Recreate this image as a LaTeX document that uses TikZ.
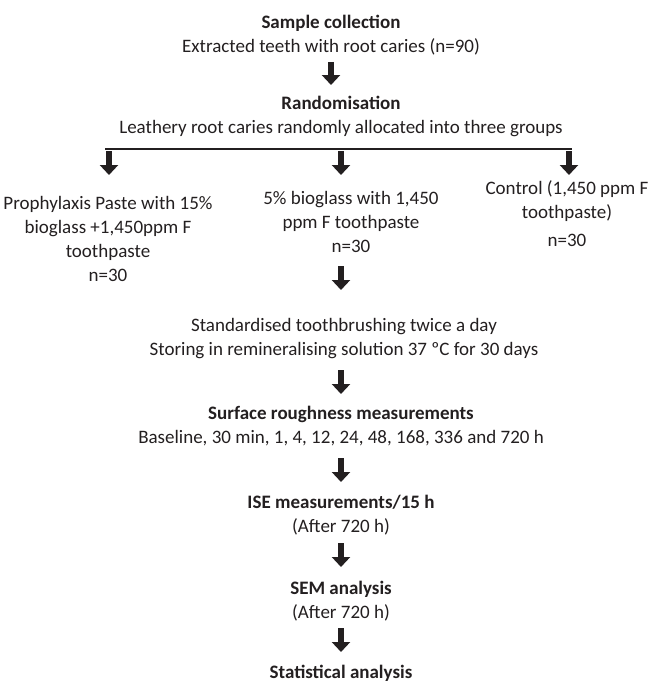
\documentclass[tikz,border=0pt]{standalone}
\usepackage{fontspec}
\setmainfont{Carlito}
\usepackage{tikz}
\usetikzlibrary{positioning,arrows.meta}
\definecolor{flowInk}{HTML}{231F20}
\tikzset{
  steptext/.style={align=center,inner sep=0pt,text=flowInk,
    font=\fontsize{19}{24}\selectfont},
  blockarrow/.style={-{Triangle[length=10pt,width=18pt]},line width=6pt,draw=flowInk},
  branchline/.style={line width=2.6pt,draw=flowInk}
}
\begin{document}
\begin{tikzpicture}[x=1pt,y=-1pt]
  \useasboundingbox (0,0) rectangle (649,685);
  % stages of the study
  \node[steptext] (collect) at (331,35.5) {\textbf{Sample collection}\\Extracted teeth with root caries (n=90)};
  \node[steptext] (random) at (341,116.5) {\textbf{Randomisation}\\Leathery root caries randomly allocated into three groups};
  \node[steptext] (paste) at (108,238.5) {Prophylaxis Paste with 15\%\\bioglass +1,450ppm F\\toothpaste\\n=30};
  \node[steptext] (bioglass) at (351,221.5) {5\% bioglass with 1,450\\ppm F toothpaste\\n=30};
  \node[steptext] (control) at (567,214) {Control (1,450 ppm F\\toothpaste)\\[4pt]n=30};
  \node[steptext] (brush) at (344,338.5) {Standardised toothbrushing twice a day\\Storing in remineralising solution 37 ºC for 30 days};
  \node[steptext] (rough) at (341,426.5) {\textbf{Surface roughness measurements}\\Baseline, 30 min, 1, 4, 12, 24, 48, 168, 336 and 720 h};
  \node[steptext] (ise) at (341,515) {\textbf{ISE measurements/15 h}\\(After 720 h)};
  \node[steptext] (sem) at (341,601) {\textbf{SEM analysis}\\(After 720 h)};
  \node[steptext] (stats) at (341,673) {\textbf{Statistical analysis}};
  % branch to the three groups
  \coordinate (splitL) at (105,149);
  \coordinate (splitR) at (572,149);
  \draw[branchline] (splitL) -- (splitR);
  \coordinate (g1s) at (109,151); \coordinate (g1e) at (109,175);
  \coordinate (g2s) at (341,151); \coordinate (g2e) at (341,175);
  \coordinate (g3s) at (569,151); \coordinate (g3e) at (569,175);
  \draw[blockarrow] (g1s) -- (g1e);
  \draw[blockarrow] (g2s) -- (g2e);
  \draw[blockarrow] (g3s) -- (g3e);
  % arrows down the middle
  \coordinate (a1s) at (331,62);  \coordinate (a1e) at (331,85);
  \coordinate (a2s) at (341,266); \coordinate (a2e) at (341,290);
  \coordinate (a3s) at (341,370); \coordinate (a3e) at (341,394);
  \coordinate (a4s) at (341,458); \coordinate (a4e) at (341,482);
  \coordinate (a5s) at (341,543); \coordinate (a5e) at (341,567);
  \coordinate (a6s) at (341,628); \coordinate (a6e) at (341,652);
  \foreach \s in {1,...,6}
    \draw[blockarrow] (a\s s) -- (a\s e);
\end{tikzpicture}
\end{document}
